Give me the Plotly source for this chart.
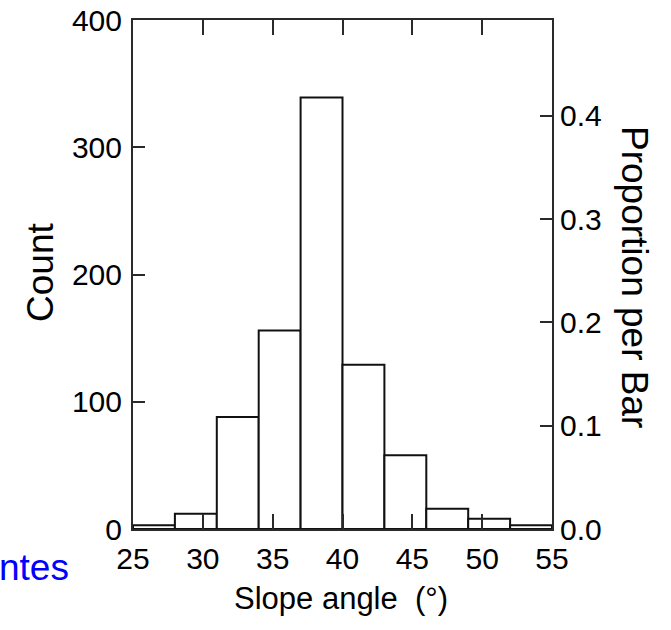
import plotly.graph_objects as go

# ---- data ----
bin_edges = [25, 28, 31, 34, 37, 40, 43, 46, 49, 52, 55]
counts = [3, 12, 88, 156, 339, 129, 58, 16, 8, 3]
x_ticks = [25, 30, 35, 40, 45, 50, 55]
count_ticks = [0, 100, 200, 300, 400]
prop_ticks = [0.0, 0.1, 0.2, 0.3, 0.4]
x_title = "Slope angle  (°)"
y_title = "Count"
y2_title = "Proportion per Bar"
side_text = "ntes"

centers = [(a + b) / 2 for a, b in zip(bin_edges[:-1], bin_edges[1:])]
widths = [b - a for a, b in zip(bin_edges[:-1], bin_edges[1:])]
total = sum(counts)

W, H = 671, 630
# plot-area edges in page pixels
PX_L, PX_R, PX_T, PX_B = 133, 552, 20, 529
L, T = PX_L, PX_T
R, B = W - PX_R, H - PX_B
pw, ph = PX_R - PX_L, PX_B - PX_T

def px_x(p):
    return (p - PX_L) / pw

def px_y(p):
    return 1 - (p - PX_T) / ph

FONT = "Liberation Sans, Arial, Helvetica, sans-serif"
AX = "#2a2a2a"

fig = go.Figure()
fig.add_trace(go.Bar(
    x=centers, y=counts, width=widths,
    marker=dict(color="white", line=dict(color="#111111", width=2)),
    showlegend=False, hoverinfo="skip",
))
fig.add_trace(go.Scatter(
    x=[centers[0]], y=[0], yaxis="y2", mode="markers",
    marker=dict(opacity=0), showlegend=False, hoverinfo="skip",
))

fig.update_layout(
    template="none",
    width=W, height=H,
    margin=dict(l=L, r=R, t=T, b=B, pad=0, autoexpand=False),
    paper_bgcolor="white", plot_bgcolor="white",
    font=dict(family=FONT, size=30, color="black"),
    xaxis=dict(
        range=[bin_edges[0], bin_edges[-1]], tickvals=x_ticks, automargin=False,
        ticks="inside", ticklen=15, tickwidth=2, tickcolor=AX,
        showline=True, linecolor=AX, linewidth=2, mirror="ticks",
        showgrid=False, zeroline=False, ticklabelstandoff=2,
        ticklabeloverflow="allow",
    ),
    yaxis=dict(
        range=[count_ticks[0], count_ticks[-1]], tickvals=count_ticks, automargin=False,
        ticks="inside", ticklen=12, tickwidth=2, tickcolor=AX,
        showline=True, linecolor=AX, linewidth=2,
        showgrid=False, zeroline=False, ticklabelstandoff=3,
        ticklabeloverflow="allow",
    ),
    yaxis2=dict(
        overlaying="y", side="right", automargin=False,
        range=[0, count_ticks[-1] / total], tickvals=prop_ticks, tickformat=".1f",
        ticks="inside", ticklen=12, tickwidth=2, tickcolor=AX,
        showline=True, linecolor=AX, linewidth=2,
        showgrid=False, zeroline=False, ticklabelstandoff=0,
        ticklabeloverflow="allow",
    ),
    annotations=[
        dict(text=x_title, xref="paper", yref="paper", x=px_x(341), y=px_y(598),
             showarrow=False, xanchor="center", yanchor="middle", font=dict(size=31)),
        dict(text=y_title, xref="paper", yref="paper", x=px_x(40), y=px_y(273),
             showarrow=False, textangle=-90, xanchor="center", yanchor="middle", font=dict(size=37)),
        dict(text=y2_title, xref="paper", yref="paper", x=px_x(635), y=px_y(277),
             showarrow=False, textangle=90, xanchor="center", yanchor="middle", font=dict(size=37)),
        dict(text=side_text, xref="paper", yref="paper", x=px_x(-3), y=px_y(567),
             showarrow=False, xanchor="left", yanchor="middle",
             font=dict(size=37, color="#0000ff", family="Liberation Sans, Arial, sans-serif")),
    ],
)

fig.write_html(
    "out.html",
    config={"displayModeBar": False},
    post_script="document.body.style.margin='0';document.body.style.overflow='hidden';",
)
